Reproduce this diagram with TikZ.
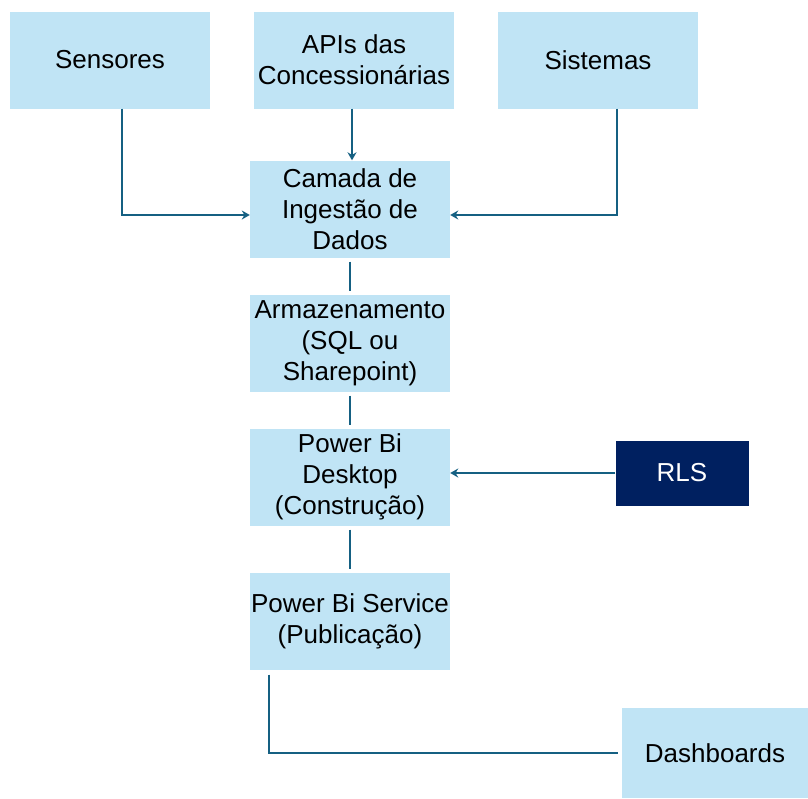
\documentclass[tikz,border=0pt]{standalone}
\usepackage{fontspec}
\setmainfont{Liberation Sans}
\usepackage{xcolor}
\usetikzlibrary{arrows.meta,positioning}

\definecolor{caixa}{HTML}{C0E4F5}
\definecolor{marinho}{HTML}{002060}
\definecolor{linha}{HTML}{156082}

\begin{document}
\begin{tikzpicture}[x=1pt,y=-1pt,
    bloco/.style={fill=caixa, minimum width=200pt, minimum height=97pt, align=center,
                  font=\fontsize{26}{31}\selectfont, inner sep=0pt},
    escuro/.style={fill=marinho, text=white, minimum width=133pt, minimum height=65pt,
                   font=\fontsize{26}{31}\selectfont, inner sep=0pt},
    liga/.style={draw=linha, line width=2.6pt},
    seta/.style={liga, -{Stealth[length=8pt,width=9pt]}}]
    \useasboundingbox (0,0) rectangle (808,798);
    % Fontes de dados
    \node[bloco] (sens) at (110,60) {Sensores};
    \node[bloco] (apis) at (354,60) {APIs das\\Concessionárias};
    \node[bloco] (sist) at (598,60) {Sistemas};
    % Fluxo principal
    \node[bloco] (ing) at (350,209) {Camada de\\Ingestão de\\Dados};
    \node[bloco] (arm) at (350,343) {Armazenamento\\(SQL ou\\Sharepoint)};
    \node[bloco] (desk) at (350,477) {Power Bi\\Desktop\\(Construção)};
    \node[bloco] (serv) at (350,621) {Power Bi Service\\(Publicação)};
    \node[escuro] (rls) at (682,473) {RLS};
    \node[bloco, minimum width=186pt, minimum height=90pt] (dash) at (715,753) {Dashboards};

    \draw[seta] ([xshift=12pt]sens.south) |- ([yshift=-6pt]ing.west);
    \draw[seta] ([xshift=-2pt]apis.south) -- ([xshift=2pt]ing.north);
    \draw[seta] ([xshift=19pt]sist.south) |- ([yshift=-6pt]ing.east);
    \draw[liga, shorten <=4pt, shorten >=3pt] (ing) -- (arm);
    \draw[liga, shorten <=4pt, shorten >=3pt] (arm) -- (desk);
    \draw[liga, shorten <=4pt, shorten >=3pt] (desk) -- (serv);
    \draw[seta] (rls.west) -- (desk.east |- rls.west);
    \draw[liga, shorten <=5pt, shorten >=4pt] ([xshift=-81pt]serv.south) |- (dash.west);
\end{tikzpicture}
\end{document}
